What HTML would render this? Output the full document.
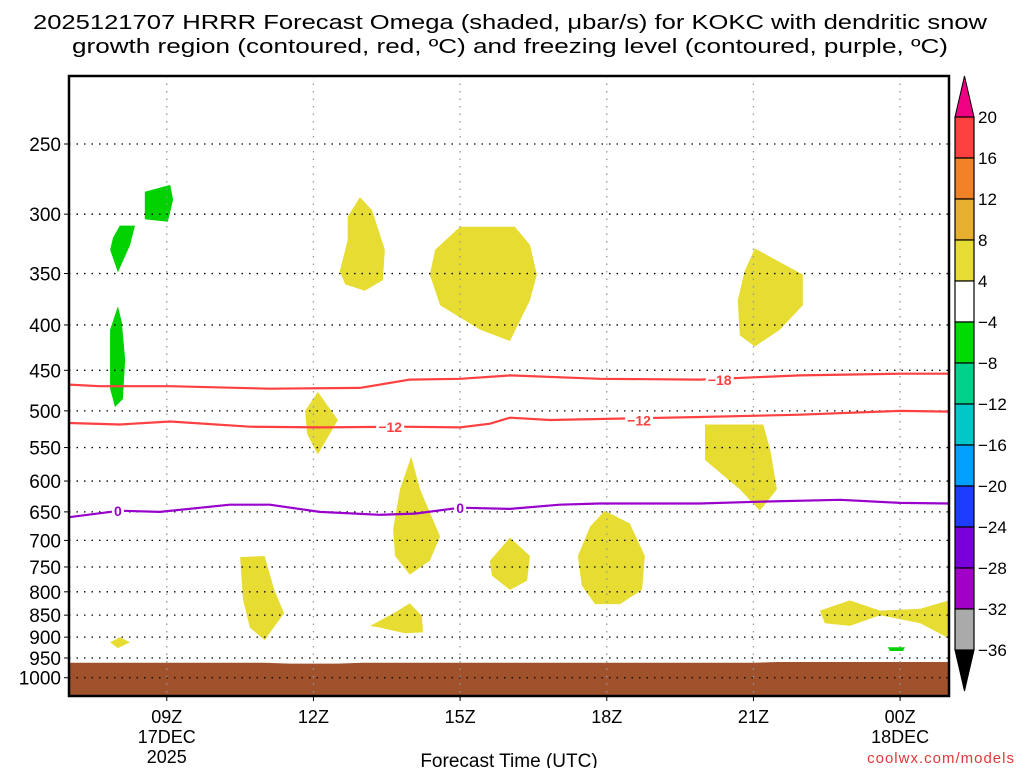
<!DOCTYPE html>
<html><head><meta charset="utf-8">
<style>
html,body{margin:0;padding:0;background:#fff;}
svg{display:block;font-family:"Liberation Sans",sans-serif;}
</style></head>
<body>
<svg id="chart" width="1024" height="768" viewBox="0 0 1024 768" xmlns="http://www.w3.org/2000/svg">
<text x="510" y="29" font-size="20" text-anchor="middle" textLength="954" lengthAdjust="spacingAndGlyphs" fill="#000">2025121707 HRRR Forecast Omega (shaded, μbar/s) for KOKC with dendritic snow</text>
<text x="510" y="53" font-size="20" text-anchor="middle" textLength="876" lengthAdjust="spacingAndGlyphs" fill="#000">growth region (contoured, red, ºC) and freezing level (contoured, purple, ºC)</text>
<g id="plot"></g>
<g id="cbar"></g>
<text x="509" y="767" font-size="19" text-anchor="middle" fill="#000">Forecast Time (UTC)</text>
<text x="1015" y="763" font-size="15" text-anchor="end" fill="#e03838" letter-spacing="1">coolwx.com/models</text>
</svg>
<script>
// ---- data ----
const pressureTicks=[250,300,350,400,450,500,550,600,650,700,750,800,850,900,950,1000];
const timeTicks=[9,12,15,18,21,24];
const timeLabels=["09Z","12Z","15Z","18Z","21Z","00Z"];
const timeSubLabels=[["17DEC","2025"],[],[],[],[],["18DEC"]];
const surfaceP=[[7,962],[11,962],[11.5,964],[12.5,964],[13,962],[21,962],[21.5,960],[25,960]];
const greenAreas=[
 [[8.55,283],[9.07,278],[9.13,289],[9.02,306],[8.55,304]],
 [[8.04,309],[8.35,309],[8.25,325],[8.0,349],[7.84,329],[7.9,319]],
 [[8.0,381],[8.08,397],[8.15,438],[8.1,485],[7.94,495],[7.84,472],[7.84,405]],
 [[23.75,924],[24.1,924],[24.06,933],[23.79,933]]
];
const yellowAreas=[
 [[12.95,287],[13.2,297],[13.46,329],[13.42,356],[13.05,366],[12.65,360],[12.54,348],[12.7,321],[12.7,302]],
 [[15.0,310],[16.12,310],[16.43,325],[16.57,351],[16.43,375],[16.02,417],[15.41,405],[14.59,380],[14.38,351],[14.49,329]],
 [[21.03,328],[22.01,351],[22.01,380],[21.54,405],[21.03,423],[20.72,411],[20.68,375],[20.82,348]],
 [[12.09,476],[12.5,512],[12.09,560],[11.87,531],[11.83,500]],
 [[14.0,563],[14.18,613],[14.59,693],[14.38,738],[13.97,765],[13.67,729],[13.63,680],[13.77,613]],
 [[20.01,518],[21.2,518],[21.34,552],[21.48,613],[21.13,648],[20.72,613],[20.01,568]],
 [[16.02,695],[16.43,729],[16.37,777],[16.02,796],[15.65,767],[15.61,738]],
 [[17.96,648],[18.47,670],[18.78,729],[18.72,796],[18.27,826],[17.76,826],[17.49,787],[17.41,729],[17.66,675]],
 [[10.5,731],[11.0,729],[11.2,796],[11.4,846],[11.0,907],[10.7,878],[10.56,816]],
 [[13.16,874],[13.67,844],[13.97,824],[14.22,852],[14.24,889],[13.87,891],[13.36,878]],
 [[22.36,840],[22.97,818],[23.59,840],[24.41,836],[25.0,818],[25.0,903],[24.41,868],[23.59,850],[22.97,874],[22.46,868]],
 [[7.84,912],[8.04,900],[8.25,912],[8.0,926]]
];
const lineM18=[[7,467],[7.63,469],[9.07,469],[11.11,472],[12.95,471],[13.97,461],[15.0,460],[16.02,456],[17.86,460],[19.9,461],[21.95,456],[24.0,454],[25,454]];
const lineM12=[[7,516],[8.04,518],[9.07,514],[10.7,521],[12.13,522],[13.77,521],[15.0,522],[15.61,517],[16.02,509],[16.84,512],[19.9,508],[21.95,505],[24.0,500],[25,501]];
const line0=[[7,659],[8.04,648],[8.86,650],[10.29,638],[11.11,638],[12.13,650],[13.36,655],[14.08,653],[15.0,643],[16.02,645],[17.04,638],[17.86,636],[19.9,636],[21.13,633],[22.77,630],[24.0,635],[25,636]];
const lineLabels=[["-18",20.31,461,"#ff4040"],["-12",13.57,521,"#ff4040"],["-12",18.66,512,"#ff4040"],["0",8.0,648,"#9900cc"],["0",15.0,643,"#9900cc"]];
const cbarLevels=[20,16,12,8,4,-4,-8,-12,-16,-20,-24,-28,-32,-36];
const cbarColors=["#ff4040","#f08228","#e6af2d","#e6dc32","#ffffff","#00dc00","#00d28c","#00c8c8","#00a0ff","#1e3cff","#7800dc","#a000c8","#aaaaaa"];

// ---- scales ----
const X0=69,X1=949,Y0=76,Y1=696,H0=7,H1=25;
function xs(h){return X0+(h-H0)*(X1-X0)/(H1-H0);}
function ys(p){return 144+385*Math.log(p/250);}
const NS="http://www.w3.org/2000/svg";
function mk(tag,attrs,parent){const e=document.createElementNS(NS,tag);for(const k in attrs)e.setAttribute(k,attrs[k]);parent.appendChild(e);return e;}
const plot=document.getElementById('plot');
const cb=document.getElementById('cbar');
mk('defs',{},plot).innerHTML='<clipPath id="clip"><rect x="69" y="76" width="880" height="620"/></clipPath>';
const g=mk('g',{'clip-path':'url(#clip)'},plot);
function pts(arr){return arr.map(d=>xs(d[0]).toFixed(1)+','+ys(d[1]).toFixed(1)).join(' ');}

yellowAreas.forEach((a,i)=>{
 const e=mk('polygon',{points:pts(a),fill:'#e6dc32'},g);
 
 
});
greenAreas.forEach((a,i)=>{
 const e=mk('polygon',{points:pts(a),fill:'#00d200'},g);
 
 
});
// surface
{
 const arr=surfaceP.concat([[25,1100],[7,1100]]);
 const e=mk('polygon',{points:pts(arr),fill:'#a0522d'},g);
 
 
}
// grid
pressureTicks.forEach(p=>{
 const y=ys(p);
 const l=mk('line',{x1:X0,x2:X1,y1:y,y2:y,stroke:'#000','stroke-width':1.3,'stroke-dasharray':'1.5 6'},g);
 
 
 mk('line',{x1:X0-5,x2:X0,y1:y,y2:y,stroke:'#000'},plot);
 const t=mk('text',{x:X0-8,y:y+7,'font-size':19,'text-anchor':'end',fill:'#000'},plot);
 t.textContent=p;
 
 
});
timeTicks.forEach((h,i)=>{
 const x=xs(h);
 const l=mk('line',{x1:x,x2:x,y1:Y0,y2:Y1,stroke:'#999','stroke-width':1.3,'stroke-dasharray':'1.5 6'},g);
 
 
 mk('line',{x1:x,x2:x,y1:Y1,y2:Y1+5,stroke:'#000'},plot);
 const lines=[timeLabels[i]].concat(timeSubLabels[i]);
 lines.forEach((s,j)=>{
  const t=mk('text',{x:x,y:723+j*20,'font-size':18,'text-anchor':'middle',fill:'#000'},plot);
  t.textContent=s;
  
  
 });
});
// contour lines
[[lineM18,'#ff4040','dgz-minus18-contour'],[lineM12,'#ff4040','dgz-minus12-contour'],[line0,'#9900cc','freezing-level-contour']].forEach(d=>{
 const e=mk('polyline',{points:pts(d[0]),fill:'none',stroke:d[1],'stroke-width':2.2},g);
 
 
});
lineLabels.forEach(d=>{
 const x=xs(d[1]),y=ys(d[2]);
 const w=d[0].length*8+4;
 mk('rect',{x:x-w/2,y:y-7,width:w,height:14,fill:'#fff'},g);
 const t=mk('text',{x:x,y:y+5.5,'font-size':14,'font-weight':'bold','text-anchor':'middle',fill:d[3]},g);
 t.textContent=d[0].replace('-','−');
 
 
});
mk('rect',{x:X0,y:Y0,width:X1-X0,height:Y1-Y0,fill:'none',stroke:'#000','stroke-width':2.5},plot);

// colorbar
const CX=955,CW=19,CT=117,STEP=(650-117)/13;
mk('polygon',{points:`${CX},${CT} ${CX+CW/2},76 ${CX+CW},${CT}`,fill:'#f00082',stroke:'#000'},cb);
mk('polygon',{points:`${CX},650 ${CX+CW/2},691 ${CX+CW},650`,fill:'#000',stroke:'#000'},cb);
cbarColors.forEach((c,i)=>{
 const r=mk('rect',{x:CX,y:CT+i*STEP,width:CW,height:STEP,fill:c,stroke:'#000','stroke-width':1.2},cb);
 
 
});
cbarLevels.forEach((v,i)=>{
 const t=mk('text',{x:978,y:CT+i*STEP+6,'font-size':17,fill:'#000'},cb);
 t.textContent=v<0?'−'+Math.abs(v):String(v);
 
 
});
</script>
</body></html>
